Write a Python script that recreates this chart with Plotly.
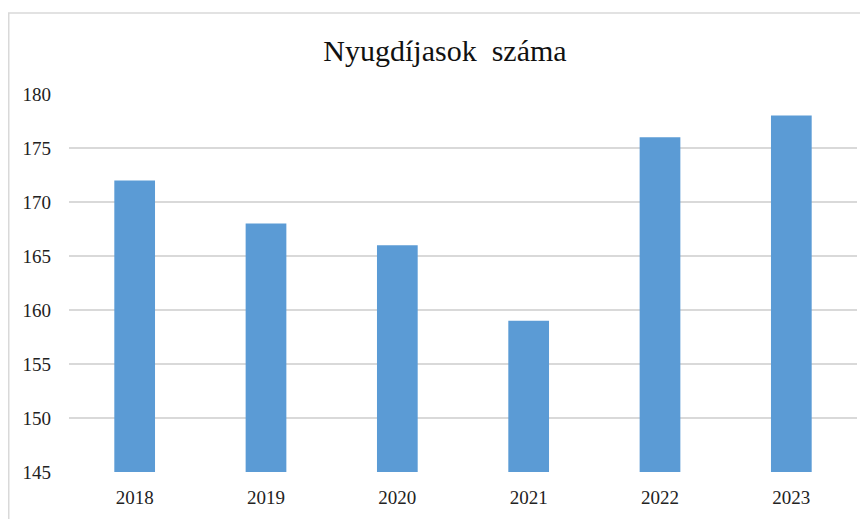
import plotly.graph_objects as go

years = ["2018", "2019", "2020", "2021", "2022", "2023"]
values = [172, 168, 166, 159, 176, 178]
y_ticks = [145, 150, 155, 160, 165, 170, 175, 180]

W, H = 860, 511
L, R, T, B = 61, 11, 86, 42
pw = W - L - R
ph = H - T - B

fig = go.Figure(go.Bar(
    x=years, y=values,
    marker=dict(color="#5B9BD5", line=dict(width=0)),
    width=0.31,
))

fig.update_layout(
    width=W, height=H,
    margin=dict(l=L, r=R, t=T, b=B),
    paper_bgcolor="white", plot_bgcolor="white",
    font=dict(family="Liberation Serif", size=19, color="#222222"),
    title=dict(text="Nyugdíjasok\u00a0 száma", x=437 / W, xanchor="center",
               y=1 - 42 / H, yanchor="middle",
               font=dict(family="Liberation Serif", size=30, color="#111111")),
    showlegend=False,
    xaxis=dict(showgrid=False, showline=False, ticks="", tickfont=dict(size=19),
               ticklabelstandoff=12),
    yaxis=dict(range=[145, 180], tickvals=y_ticks, showgrid=True,
               gridcolor="#D9D9D9", gridwidth=1.5, zeroline=False, showline=False,
               ticks="", tickfont=dict(size=19), ticklabelstandoff=17),
    shapes=[dict(type="rect", xref="paper", yref="paper",
                 x0=(0.75 - L) / pw, x1=1.2, y0=-0.3, y1=1 + (T - 4) / ph,
                 line=dict(color="#D9D9D9", width=1.5), fillcolor="rgba(0,0,0,0)",
                 layer="below")],
)

fig.write_html("out.html")
